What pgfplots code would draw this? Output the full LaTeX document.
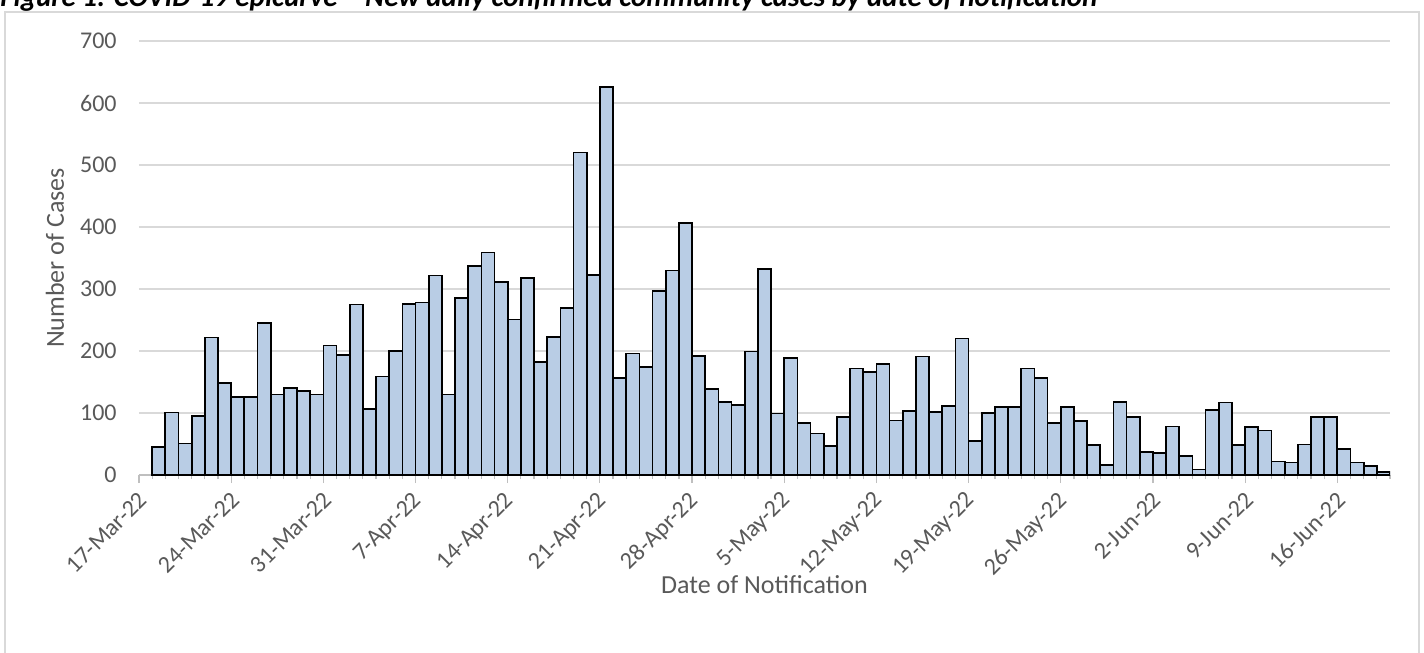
\documentclass[border=0pt]{standalone}
\usepackage{fontspec}
\setmainfont{Carlito}
\usepackage{graphicx}
\usepackage{pgfplots}
\pgfplotsset{compat=1.18}
\usepackage{pgfplotstable}
\definecolor{barfill}{HTML}{B9CDE5}
\definecolor{gridc}{HTML}{D9D9D9}
\definecolor{txt}{HTML}{595959}
\definecolor{axc}{HTML}{BFBFBF}
\newcommand{\rl}[1]{\rotatebox{45}{#1}}
\pgfplotstableread{
day cases
1 45
2 101
3 51
4 95
5 222
6 148
7 126
8 126
9 245
10 130
11 140
12 136
13 130
14 209
15 194
16 275
17 107
18 159
19 200
20 276
21 278
22 322
23 130
24 285
25 337
26 359
27 311
28 251
29 318
30 182
31 223
32 269
33 520
34 323
35 626
36 157
37 196
38 174
39 297
40 330
41 406
42 192
43 139
44 118
45 113
46 199
47 332
48 99
49 189
50 84
51 67
52 47
53 93
54 172
55 166
56 179
57 88
58 103
59 191
60 102
61 111
62 220
63 55
64 100
65 110
66 110
67 172
68 156
69 84
70 110
71 87
72 48
73 16
74 118
75 93
76 37
77 36
78 78
79 31
80 9
81 105
82 117
83 48
84 77
85 72
86 22
87 20
88 49
89 94
90 93
91 42
92 20
93 14
94 5
}\data

\begin{document}
\begin{tikzpicture}
\useasboundingbox (-69.5pt,-89pt) rectangle (642.5pt,237.5pt);
\begin{axis}[
  at={(0,0)}, anchor=south west, scale only axis,
  width=625.5pt, height=217pt,
  xmin=0, xmax=95, ymin=0, ymax=700,
  ybar, bar width=1,
  axis x line*=bottom, axis y line*=left,
  x axis line style={draw=axc, line width=0.7pt, -},
  y axis line style={draw=none},
  ytick={0,100,...,700},
  ymajorgrids, grid style={draw=gridc, line width=0.7pt},
  xtick={0,7,...,91},
  xticklabels={\rl{17-Mar-22},\rl{24-Mar-22},\rl{31-Mar-22},\rl{7-Apr-22},\rl{14-Apr-22},\rl{21-Apr-22},\rl{28-Apr-22},\rl{5-May-22},\rl{12-May-22},\rl{19-May-22},\rl{26-May-22},\rl{2-Jun-22},\rl{9-Jun-22},\rl{16-Jun-22}},
  minor xtick={0,1,...,95},
  tick align=outside,
  xtick style={draw=axc, line width=0.6pt},
  major tick length=4pt, minor tick length=2pt,
  ytick style={draw=none},
  /pgf/number format/assume math mode=true,
  ticklabel style={font=\fontsize{12}{14}\selectfont, text=txt},
  yticklabel style={anchor=east, inner sep=0pt, xshift=-7pt},
  xticklabel style={anchor=north east, inner sep=0pt, xshift=5pt, yshift=-3.5pt},
  xlabel={Date of Notification},
  ylabel={Number of Cases},
  label style={font=\fontsize{13}{15}\selectfont, text=txt},
  xlabel style={at={(axis description cs:0.5,0)}, anchor=center, yshift=-55pt},
  ylabel style={at={(axis description cs:0,0.5)}, anchor=center, yshift=42pt},
]
\addplot[fill=barfill, draw=black, line width=0.85pt] table[x expr=\thisrow{day}+0.5, y=cases] {\data};
\end{axis}
\draw[gridc, line width=0.8pt] (-67pt,-95pt) -- (-67pt,231.5pt) -- (640pt,231.5pt) -- (640pt,-95pt);
\node[anchor=base west, inner sep=0pt, font=\fontsize{14.5}{16}\selectfont\bfseries\itshape] at (-69.5pt,234.25pt) {Figure 1: COVID-19 epicurve – New daily confirmed community cases by date of notification};
\end{tikzpicture}
\end{document}
